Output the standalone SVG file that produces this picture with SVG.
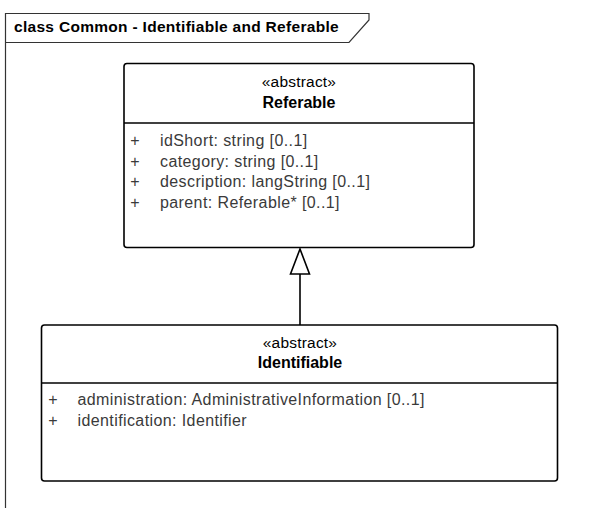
<svg xmlns="http://www.w3.org/2000/svg" width="589" height="508" viewBox="0 0 589 508">
<style>
.frame{fill:none;stroke:#333;stroke-width:1.2}
.box{fill:#fff;stroke:#000;stroke-width:1.6}
.div{stroke:#000;stroke-width:1.4}
.title{font-family:"Liberation Sans",Arial,sans-serif;font-size:15.5px;font-weight:bold;fill:#000;letter-spacing:0.3px}
.st{font-family:"Liberation Sans",Arial,sans-serif;font-size:15.5px;fill:#000;text-anchor:middle;letter-spacing:0.2px}
.nm{font-family:"Liberation Sans",Arial,sans-serif;font-size:16px;font-weight:bold;fill:#000;text-anchor:middle}
.at{font-family:"Liberation Sans",Arial,sans-serif;font-size:16px;fill:#3a3a3a;letter-spacing:0.4px}
.pl{font-family:"Liberation Sans",Arial,sans-serif;font-size:16px;fill:#3a3a3a;text-anchor:middle}
.conn{fill:none;stroke:#000;stroke-width:1.6}
</style>
<rect width="589" height="508" fill="#fff"/>
<g id="frame">
<path class="frame" d="M5.5,508 V13.5 H369 V20 L349,42.5 H5.5"/>
<text class="title" x="14" y="32">class Common - Identifiable and Referable</text>
</g>
<g id="connectors">
<line class="conn" x1="300" y1="274" x2="300" y2="325"/>
<polygon class="conn" fill="#fff" points="300,249 290.5,274 309.5,274"/>
</g>
<g id="Referable">
<rect class="box" x="124" y="63.5" width="350" height="184" rx="3"/>
<line class="div" x1="124" y1="123" x2="474" y2="123"/>
<text class="st" x="299" y="87">«abstract»</text>
<text class="nm" x="299" y="108">Referable</text>
<text class="pl" x="135" y="146">+</text>
<text class="at" x="160" y="146">idShort: string [0..1]</text>
<text class="pl" x="135" y="166.5">+</text>
<text class="at" x="160" y="166.5">category: string [0..1]</text>
<text class="pl" x="135" y="187">+</text>
<text class="at" x="160" y="187">description: langString [0..1]</text>
<text class="pl" x="135" y="207.5">+</text>
<text class="at" x="160" y="207.5">parent: Referable* [0..1]</text>
</g>
<g id="Identifiable">
<rect class="box" x="41.5" y="325" width="516" height="156" rx="3"/>
<line class="div" x1="41.5" y1="383" x2="557.5" y2="383"/>
<text class="st" x="300" y="348">«abstract»</text>
<text class="nm" x="300" y="368">Identifiable</text>
<text class="pl" x="53" y="405">+</text>
<text class="at" x="77.5" y="405">administration: AdministrativeInformation [0..1]</text>
<text class="pl" x="53" y="425.5">+</text>
<text class="at" x="77.5" y="425.5">identification: Identifier</text>
</g>
</svg>
